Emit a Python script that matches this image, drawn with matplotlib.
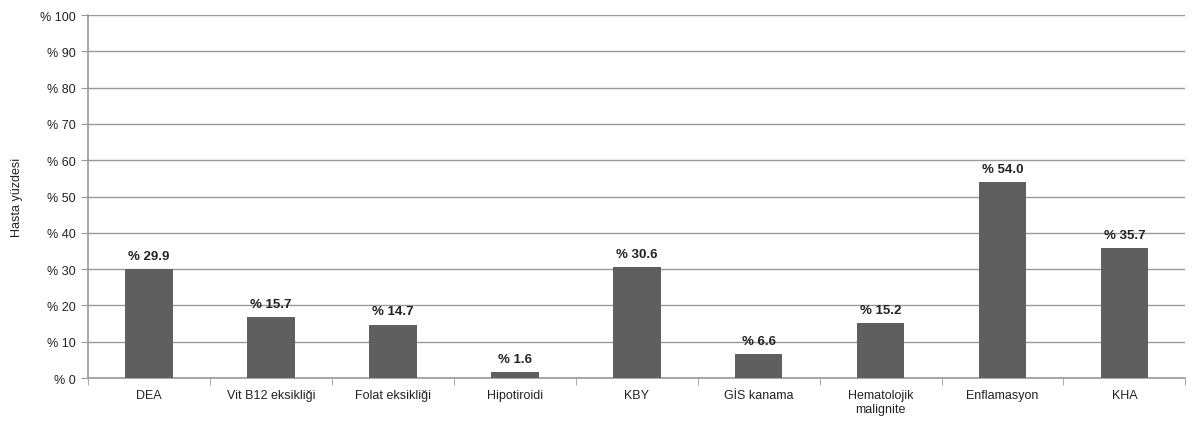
import numpy as np
import matplotlib.pyplot as plt

plt.rcParams['font.family'] = ['Liberation Sans', 'DejaVu Sans']

# dati
categories = ["DEA", "Vit B12 eksikliği", "Folat eksikliği", "Hipotiroidi", "KBY",
              "GİS kanama", "Hematolojik\nmalignite", "Enflamasyon", "KHA"]
values = [29.9, 16.7, 14.7, 1.6, 30.6, 6.6, 15.2, 54.0, 35.7]
value_labels = ["% 29.9", "% 15.7", "% 14.7", "% 1.6", "% 30.6",
                "% 6.6", "% 15.2", "% 54.0", "% 35.7"]
yticks = list(range(0, 101, 10))

fig = plt.figure(figsize=(11.98, 4.27), dpi=100)
ax = fig.add_axes([0.0735, 0.1124, 0.916, 0.8501])

x = np.arange(len(categories))
ax.bar(x, values, width=0.39, color="#5f5f5f", zorder=3)

for xi, v, lab in zip(x, values, value_labels):
    ax.text(xi, v + 2.0, lab, ha="center", va="bottom", fontsize=9.5,
            fontweight="bold", color="#222222")

ax.set_xlim(-0.5, len(categories) - 0.5)
ax.set_ylim(0, 100)
ax.set_yticks(yticks)
ax.set_yticklabels([f"% {t}" for t in yticks], fontsize=9, color="#222222")
ax.set_xticks(x)
ax.set_xticklabels(categories, fontsize=9, color="#222222", linespacing=1.2)
ax.set_xticks(np.arange(-0.5, len(categories)), minor=True)
ax.tick_params(axis="x", which="major", length=0, pad=8)
ax.tick_params(axis="x", which="minor", length=5, color="#999999")
ax.tick_params(axis="y", length=5, color="#999999", pad=4)

ax.grid(axis="y", color="#999999", linewidth=1, zorder=0)
for s in ["top", "right"]:
    ax.spines[s].set_visible(False)
for s in ["left", "bottom"]:
    ax.spines[s].set_color("#999999")
    ax.spines[s].set_linewidth(1.2)

ax.set_ylabel("Hasta yüzdesi", fontsize=9, color="#222222", labelpad=12)

fig.savefig("out.png", dpi=100)
